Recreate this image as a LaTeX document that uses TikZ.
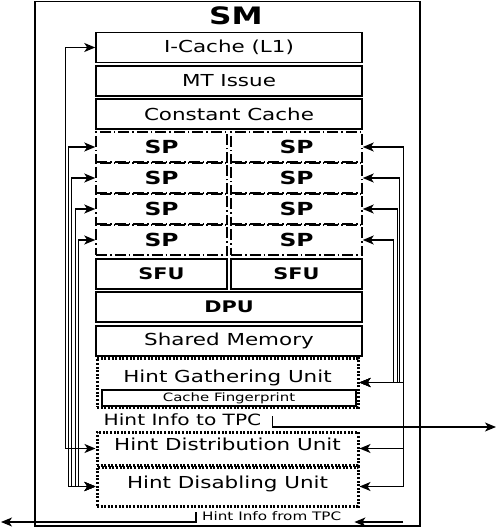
\documentclass[tikz,border=0pt]{standalone}
\usepackage{fontspec}
\setmainfont{DejaVu Sans}[FakeStretch=1.3]
\usetikzlibrary{arrows.meta}

\newcommand*{\lcol}{161.5}
\newcommand*{\rcol}{296.5}
\newcommand*{\mcol}{229}

\begin{document}
\begin{tikzpicture}
[
	x=1pt,y=-1pt,
	>={Stealth[length=11pt,width=9pt,inset=3pt]},
	unit/.style={draw,line width=1.5pt,inner sep=0pt,minimum width=266pt,minimum height=30pt,font=\fontsize{16.5}{18}\selectfont},
	half/.style={unit,minimum width=131pt,font=\fontsize{16}{18}\selectfont\bfseries},
	spbox/.style={half,dash pattern={on 11pt off 3pt on 1.5pt off 3pt},font=\fontsize{18}{20}\selectfont\bfseries},
	hintbox/.style={draw,line width=3pt,dash pattern={on 2pt off 1.6pt},inner sep=0pt,minimum width=261pt,text depth=9pt,font=\fontsize{16.5}{18}\selectfont},
	note/.style={inner sep=1pt},
	wire/.style={line width=1.3pt}
]
	\useasboundingbox (0,0) rectangle (497,529);

	% frame
	\node[draw,line width=1.5pt,inner sep=0pt,minimum width=385pt,minimum height=524.5pt] (sm) at (227.5,263.75) {};
	\node[font=\fontsize{24}{26}\selectfont\bfseries] (smtitle) at (236,16) {SM};

	% pipeline
	\node[unit] (icache) at (\mcol,47.5) {I-Cache (L1)};
	\node[unit] (mtissue) at (\mcol,81) {MT Issue};
	\node[unit] (ccache) at (\mcol,114) {Constant Cache};
	\foreach \r/\y in {1/147,2/178,3/209,4/240}
	{
		\node[spbox] (spl\r) at (\lcol,\y) {SP};
		\node[spbox] (spr\r) at (\rcol,\y) {SP};
	}
	\node[half] (sful) at (\lcol,274) {SFU};
	\node[half] (sfur) at (\rcol,274) {SFU};
	\node[unit,font=\fontsize{16}{18}\selectfont\bfseries] (dpu) at (\mcol,307) {DPU};
	\node[unit] (shmem) at (\mcol,341) {Shared Memory};

	% hint units
	\node[hintbox,minimum height=49pt] (hgu) at (227.5,382.5) {};
	\node[font=\fontsize{16.5}{18}\selectfont] (hgutext) at (227.5,378) {Hint Gathering Unit};
	\node[draw,line width=1.5pt,inner sep=0pt,minimum width=254pt,minimum height=16pt,font=\fontsize{11.5}{13}\selectfont] (fprint) at (229,398) {Cache Fingerprint};
	\node[note,font=\fontsize{15.5}{17}\selectfont] (hintto) at (182.5,420) {Hint Info to TPC};
	\node[hintbox,minimum height=33pt] (hdist) at (227.5,448.5) {Hint Distribution Unit};
	\node[hintbox,minimum height=39pt] (hdis) at (227.5,486.5) {Hint Disabling Unit};
	\node[note,font=\fontsize{11.7}{13}\selectfont] (hintfrom) at (271.7,516.5) {Hint Info from TPC};

	% left wires
	\draw[wire,<->] (icache.west) -| ([xshift=-30pt]hdist.west) -- (hdist.west);
	\foreach \r/\d in {1/27,2/24,3/20,4/17}
		\draw[wire,<->] (spl\r.west) -| ([xshift=-\d pt]hdis.west) -- (hdis.west);

	% right wires
	\foreach \r/\d in {1/44,2/40,3/38,4/34}
		\draw[wire,<->] (spr\r.east) -| ([xshift=\d pt]hgu.east) -- (hgu.east);
	\draw[wire,->] ([xshift=44pt]hgu.east) |- (hdis.east);
	\draw[wire,->] ([xshift=44pt]hdist.east) -- (hdist.east);

	% to and from TPC
	\coordinate (tpcout) at (496,427);
	\coordinate (tpcin) at (1,522);
	\coordinate (tpcsrc) at (403,522);
	\draw[wire,->] ([xshift=10pt,yshift=4pt]hintto.east) |- (tpcout);
	\draw[wire,->] ([xshift=-5pt,yshift=4.5pt]hintfrom.west) |- (tpcin);
	\draw[wire,->] (tpcsrc) -- ([xshift=12pt,yshift=-5.5pt]hintfrom.east);

\end{tikzpicture}
\end{document}
